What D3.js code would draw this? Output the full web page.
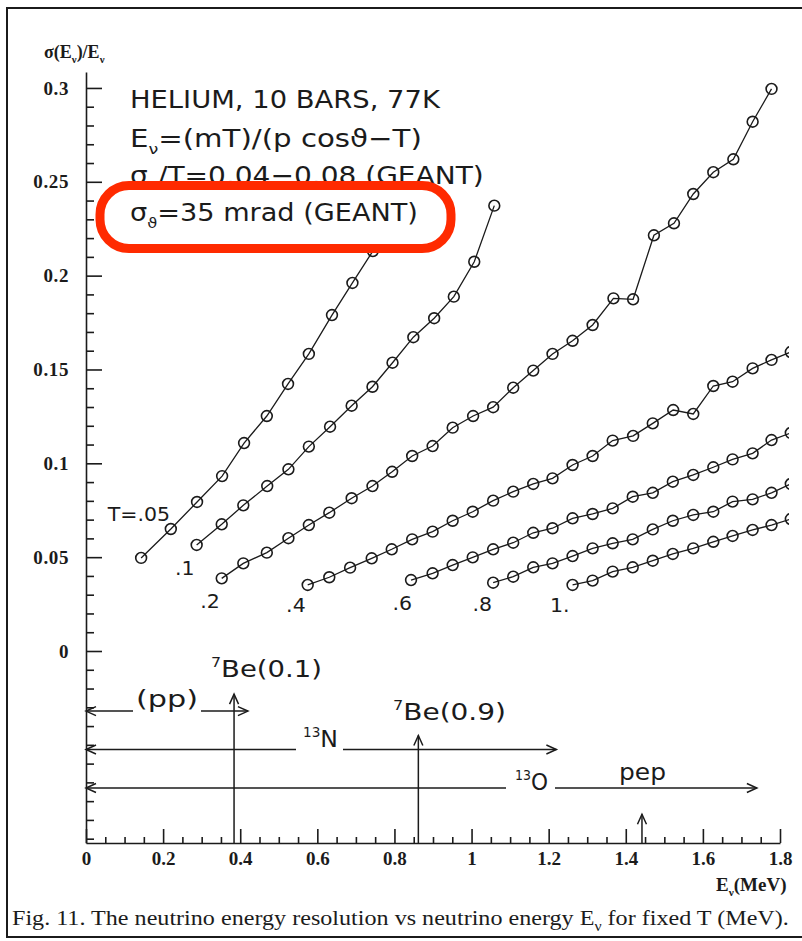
<!DOCTYPE html>
<html>
<head>
<meta charset="utf-8">
<script src="https://cdn.jsdelivr.net/npm/d3@7"></script>
<style>
  html, body { margin: 0; padding: 0; background: #ffffff; }
  svg { display: block; }
</style>
</head>
<body>
<svg id="fig" width="802" height="941"></svg>
<script>
// ---------------------------------------------------------------
// Neutrino energy resolution sigma(Ev)/Ev vs Ev for fixed electron
// kinetic energy T (MeV); helium, 10 bar, 77 K.
// ---------------------------------------------------------------

// Curve labels (electron kinetic energy T, MeV)
const curveLabels = ["T=.05", ".1", ".2", ".4", ".6", ".8", "1."];

// Ev (MeV) and sigma(Ev)/Ev for each T
const evT005  = [0.143, 0.220, 0.288, 0.353, 0.410, 0.469, 0.524, 0.578, 0.638, 0.691, 0.744, 0.799];
const resT005 = [0.0496, 0.0650, 0.0794, 0.0932, 0.1108, 0.1252, 0.1423, 0.1583, 0.1790, 0.1961, 0.2131, 0.2307];

const evT01  = [0.287, 0.352, 0.408, 0.470, 0.525, 0.578, 0.633, 0.689, 0.743, 0.795, 0.849, 0.903, 0.954, 1.007, 1.059];
const resT01 = [0.0565, 0.0675, 0.0776, 0.0879, 0.0968, 0.1089, 0.1195, 0.1307, 0.1408, 0.1536, 0.1672, 0.1773, 0.1888, 0.2074, 0.2373];

const evT02  = [0.352, 0.408, 0.469, 0.525, 0.578, 0.631, 0.689, 0.743, 0.794, 0.846, 0.899, 0.951, 1.004, 1.056,
                1.108, 1.160, 1.210, 1.262, 1.314, 1.368, 1.419, 1.473, 1.525, 1.575, 1.627, 1.679, 1.729, 1.778];
const resT02 = [0.0387, 0.0467, 0.0524, 0.0601, 0.0671, 0.0737, 0.0814, 0.0879, 0.0955, 0.1039, 0.1092, 0.1190, 0.1252, 0.1299,
                0.1403, 0.1494, 0.1583, 0.1653, 0.1737, 0.1879, 0.1874, 0.2215, 0.2279, 0.2435, 0.2551, 0.2620, 0.2820, 0.2995];

const evT04  = [0.575, 0.631, 0.685, 0.741, 0.793, 0.846, 0.899, 0.951, 1.003, 1.056, 1.108, 1.160, 1.210,
                1.262, 1.314, 1.366, 1.419, 1.470, 1.523, 1.575, 1.627, 1.677, 1.729, 1.778, 1.828];
const resT04 = [0.0352, 0.0393, 0.0444, 0.0494, 0.0542, 0.0595, 0.0636, 0.0694, 0.0742, 0.0801, 0.0849, 0.0890, 0.0920,
                0.0991, 0.1039, 0.1121, 0.1146, 0.1213, 0.1284, 0.1263, 0.1412, 0.1435, 0.1506, 0.1551, 0.1593];

const evT06  = [0.843, 0.899, 0.951, 1.003, 1.056, 1.108, 1.160, 1.210, 1.262, 1.314,
                1.366, 1.418, 1.470, 1.522, 1.575, 1.627, 1.677, 1.729, 1.778, 1.828];
const resT06 = [0.0378, 0.0414, 0.0458, 0.0499, 0.0542, 0.0577, 0.0630, 0.0654, 0.0707, 0.0730,
                0.0760, 0.0822, 0.0843, 0.0902, 0.0938, 0.0979, 0.1021, 0.1053, 0.1124, 0.1162];

const evT08  = [1.056, 1.108, 1.160, 1.210, 1.262, 1.314, 1.366, 1.418, 1.470, 1.522, 1.575, 1.627, 1.677, 1.729, 1.778, 1.828];
const resT08 = [0.0364, 0.0396, 0.0446, 0.0467, 0.0506, 0.0547, 0.0574, 0.0595, 0.0648, 0.0694, 0.0725, 0.0742, 0.0796, 0.0808, 0.0843, 0.0890];

const evT10  = [1.262, 1.314, 1.366, 1.418, 1.470, 1.522, 1.575, 1.627, 1.677, 1.729, 1.778, 1.828];
const resT10 = [0.0352, 0.0375, 0.0423, 0.0446, 0.0481, 0.0517, 0.0547, 0.0582, 0.0613, 0.0645, 0.0671, 0.0703];

// Axis tick labels
const xTickValues = [0, 0.2, 0.4, 0.6, 0.8, 1.0, 1.2, 1.4, 1.6, 1.8];
const xTickLabels = ["0", "0.2", "0.4", "0.6", "0.8", "1", "1.2", "1.4", "1.6", "1.8"];
const yTickValues = [0, 0.05, 0.1, 0.15, 0.2, 0.25, 0.3];
const yTickLabels = ["0", "0.05", "0.1", "0.15", "0.2", "0.25", "0.3"];

// Solar neutrino spectra: continuous sources (endpoint, MeV) and lines (MeV)
const contSources   = ["pp", "13N", "13O"];
const contEndpoints = [0.42, 1.22, 1.74];
const lineSources   = ["7Be(0.1)", "7Be(0.9)", "pep"];
const lineEnergies  = [0.384, 0.862, 1.442];

// ---------------------------------------------------------------
const ink = "#1b1b1b";
const sansFamily  = "'DejaVu Sans', 'Noto Sans', sans-serif";
const serifFamily = "'Liberation Serif', 'Times New Roman', 'DejaVu Serif', serif";

const svg = d3.select("#fig");

const x = d3.scaleLinear().domain([0, 1.8]).range([86, 780]);
const y = d3.scaleLinear().domain([-0.1023, 0.3085]).range([843, 72]);

// Text helper: a text element built from plain / sub / sup pieces
function richText(parent, x0, yb, parts, style) {
  const t = parent.append("text")
    .attr("x", x0).attr("y", yb)
    .attr("font-family", style.family)
    .attr("font-size", style.size)
    .attr("font-weight", style.weight || "normal")
    .attr("fill", ink);
  if (style.anchor) t.attr("text-anchor", style.anchor);
  let shift = 0;
  parts.forEach(([s, kind]) => {
    const target = kind === "sub" ? style.size * 0.28 : kind === "sup" ? -style.size * 0.42 : 0;
    const ts = t.append("tspan").attr("dy", (target - shift).toFixed(2)).text(s);
    if (kind) ts.attr("font-size", (style.size * (style.scriptScale || 0.6)).toFixed(1));
    shift = target;
  });
  return t;
}

// Stretch a start-anchored text horizontally so it runs over a given width
function fitWidth(t, width) {
  const node = t.node();
  const w = node.getComputedTextLength();
  const x0 = +t.attr("x");
  const sx = width / w;
  t.attr("transform", `translate(${x0},0) scale(${sx.toFixed(4)},1) translate(${-x0},0)`);
  return t;
}

// ---------------- frame ----------------
svg.append("path")
  .attr("d", "M802,8 L7,8 L7,937 L802,937")
  .attr("fill", "none").attr("stroke", ink).attr("stroke-width", 2);

// ---------------- axes ----------------
const yMinor = d3.range(-10, 31).map(i => i / 100).filter(v => Math.round(v * 100) % 5 !== 0 || v < 0);
const yMajor = yTickValues;

svg.append("g").attr("transform", `translate(${x(0)},0)`)
  .call(d3.axisRight(y).tickValues(yMinor).tickSize(8).tickSizeOuter(0).tickFormat(""));
const gyMajor = svg.append("g").attr("transform", `translate(${x(0)},0)`)
  .call(d3.axisRight(y).tickValues(yMajor).tickSize(16).tickSizeOuter(0).tickFormat(""));
gyMajor.select(".domain").remove();

const gyLab = svg.append("g").attr("transform", `translate(${x(0)},0)`)
  .call(d3.axisLeft(y).tickValues(yTickValues).tickSize(0).tickPadding(17)
    .tickFormat((d, i) => yTickLabels[i]));
gyLab.select(".domain").remove();

const xMinor = d3.range(0, 37).map(i => i * 0.05).filter(v => Math.round(v * 100) % 20 !== 0);
svg.append("g").attr("transform", `translate(0,${y(-0.1023)})`)
  .call(d3.axisTop(x).tickValues(xMinor).tickSize(6).tickSizeOuter(0).tickFormat(""));
const gxMajor = svg.append("g").attr("transform", `translate(0,${y(-0.1023)})`)
  .call(d3.axisTop(x).tickValues(xTickValues).tickSize(14).tickSizeOuter(0).tickFormat(""));
gxMajor.select(".domain").remove();

const gxLab = svg.append("g").attr("transform", `translate(0,${y(-0.1023)})`)
  .call(d3.axisBottom(x).tickValues(xTickValues).tickSize(0).tickPadding(9)
    .tickFormat((d, i) => xTickLabels[i]));
gxLab.select(".domain").remove();

svg.selectAll(".domain, .tick line").attr("stroke", ink).attr("stroke-width", 1.6);
[gyLab, gxLab].forEach(g => g.selectAll("text")
  .attr("font-family", serifFamily).attr("font-weight", "bold")
  .attr("font-size", 19).attr("fill", ink));
gyLab.selectAll("text").attr("letter-spacing", 0.6);

// axis titles
richText(svg, 44, 58, [["σ(E", ""], ["ν", "sub"], [")/E", ""], ["ν", "sub"]],
  { family: serifFamily, size: 18, weight: "bold", scriptScale: 0.6 });
richText(svg, 716, 891, [["E", ""], ["ν", "sub"], ["(MeV)", ""]],
  { family: serifFamily, size: 19, weight: "bold", scriptScale: 0.6 });

// ---------------- resolution curves ----------------
const curves = [
  [evT005, resT005], [evT01, resT01], [evT02, resT02], [evT04, resT04],
  [evT06, resT06], [evT08, resT08], [evT10, resT10]
].map(([ev, rs]) => ev.map((e, i) => [e, rs[i]]));

svg.append("clipPath").attr("id", "plotClip")
  .append("rect").attr("x", 0).attr("y", 60).attr("width", 789).attr("height", 790);

const gCurves = svg.append("g").attr("clip-path", "url(#plotClip)");
const line = d3.line().x(d => x(d[0])).y(d => y(d[1]));

curves.forEach(pts => {
  const g = gCurves.append("g");
  g.append("path").attr("d", line(pts))
    .attr("fill", "none").attr("stroke", ink).attr("stroke-width", 1.3);
  g.selectAll("circle").data(pts).join("circle")
    .attr("cx", d => x(d[0])).attr("cy", d => y(d[1])).attr("r", 5.4)
    .attr("fill", "none").attr("stroke", ink).attr("stroke-width", 1.6);
});

// curve labels, placed by each curve's first point
const labelOffsets = [[29, -37], [-2, 30], [-2, 30], [-2, 27], [1, 30], [-1, 28], [-3, 27]];
curves.forEach((pts, i) => {
  const [dx, dy] = labelOffsets[i];
  const xe = x(pts[0][0]) + dx;
  svg.append("text")
    .attr("x", xe).attr("y", y(pts[0][1]) + dy)
    .attr("text-anchor", "end")
    .attr("transform", `translate(${xe},0) scale(1.08,1) translate(${-xe},0)`)
    .attr("font-family", sansFamily).attr("font-size", 19)
    .attr("fill", ink).text(curveLabels[i]);
});

// ---------------- conditions text block ----------------
const infoStyle = { family: sansFamily, size: 24.5, scriptScale: 0.6 };
fitWidth(richText(svg, 130, 108, [["HELIUM, 10 BARS, 77K", ""]], infoStyle), 310);
fitWidth(richText(svg, 130, 147,
  [["E", ""], ["ν", "sub"], ["=(mT)/(p cosϑ−T)", ""]], infoStyle), 292);
fitWidth(richText(svg, 130, 184,
  [["σ", ""], ["T", "sub"], ["/T=0.04−0.08 (GEANT)", ""]], infoStyle), 354);

// highlight box round the angular resolution line
svg.append("rect")
  .attr("x", 100).attr("y", 185.5).attr("width", 351).attr("height", 63).attr("rx", 29)
  .attr("fill", "#ffffff").attr("stroke", "#ff2a00").attr("stroke-width", 9);
fitWidth(richText(svg, 130, 221,
  [["σ", ""], ["ϑ", "sub"], ["=35 mrad (GEANT)", ""]], infoStyle), 288);

// ---------------- solar neutrino spectra (schematic) ----------------
const gSrc = svg.append("g").attr("stroke", ink).attr("stroke-width", 1.5).attr("fill", "none");
const annStyle = { family: sansFamily, size: 23, scriptScale: 0.58 };

function arrowHead(g, xTip, yTip, dir) {
  // dir: "left", "right" or "up"
  const L = 10, Wd = 4.5;
  let d;
  if (dir === "right") d = `M${xTip - L},${yTip - Wd} L${xTip},${yTip} L${xTip - L},${yTip + Wd}`;
  else if (dir === "left") d = `M${xTip + L},${yTip - Wd} L${xTip},${yTip} L${xTip + L},${yTip + Wd}`;
  else d = `M${xTip - Wd},${yTip + L} L${xTip},${yTip} L${xTip + Wd},${yTip + L}`;
  g.append("path").attr("d", d);
}

// horizontal arrows: level, label gap (px) and label set-up
const contLayout = [
  { level: -0.0320, gap: [133, 201], label: [["(pp)", ""]], lx: 136, ly: 707, w: 62 },
  { level: -0.0525, gap: [296, 343], label: [["13", "sup"], ["N", ""]], lx: 303, ly: 747, w: 35 },
  { level: -0.0730, gap: [506, 555], label: [["13", "sup"], ["O", ""]], lx: 515, ly: 790, w: 33 }
];
contEndpoints.forEach((e, i) => {
  const L = contLayout[i];
  const yy = y(L.level);
  gSrc.append("line").attr("x1", x(0)).attr("x2", L.gap[0]).attr("y1", yy).attr("y2", yy);
  gSrc.append("line").attr("x1", L.gap[1]).attr("x2", x(e)).attr("y1", yy).attr("y2", yy);
  arrowHead(gSrc, x(0), yy, "left");
  arrowHead(gSrc, x(e), yy, "right");
  fitWidth(richText(svg, L.lx, L.ly, L.label, annStyle), L.w);
});

// vertical arrows for the mono-energetic lines
const lineLayout = [
  { top: -0.0230, label: [["7", "sup"], ["Be(0.1)", ""]], lx: 211, ly: 677, w: 111 },
  { top: -0.0450, label: [["7", "sup"], ["Be(0.9)", ""]], lx: 393, ly: 720, w: 113 },
  { top: -0.0870, label: [["pep", ""]], lx: 619, ly: 780, w: 47 }
];
lineEnergies.forEach((e, i) => {
  const L = lineLayout[i];
  gSrc.append("line").attr("x1", x(e)).attr("x2", x(e)).attr("y1", y(-0.1023)).attr("y2", y(L.top));
  arrowHead(gSrc, x(e), y(L.top), "up");
  fitWidth(richText(svg, L.lx, L.ly, L.label, annStyle), L.w);
});

// ---------------- caption ----------------
fitWidth(richText(svg, 12, 925,
  [["Fig. 11. The neutrino energy resolution vs neutrino energy E", ""], ["ν", "sub"],
   [" for fixed T (MeV).", ""]],
  { family: serifFamily, size: 21, scriptScale: 0.65 }), 777);
</script>
</body>
</html>
